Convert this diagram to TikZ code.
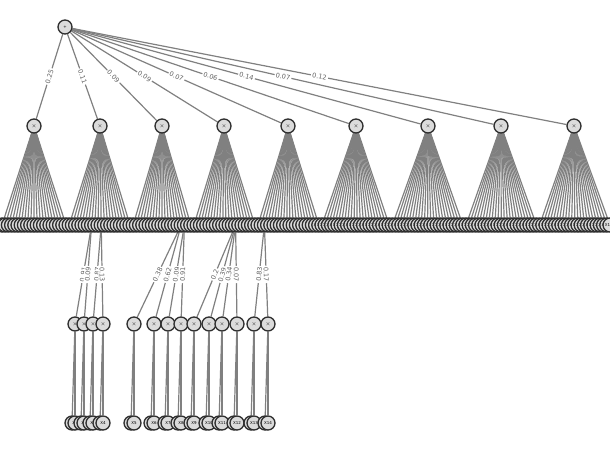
\documentclass[tikz,border=0pt]{standalone}
\usepackage{fontspec}
\setmainfont{DejaVu Sans}
\usetikzlibrary{backgrounds}
\begin{document}
\begin{tikzpicture}[x=1pt,y=-1pt,
    spnode/.style={circle,draw=black!82,fill=black!14,line width=1.3pt,
      minimum size=14pt,inner sep=0pt,font=\fontsize{4}{4}\selectfont},
    wlabel/.style={fill=white,sloped,inner sep=1.3pt,text=black!62,
      font=\fontsize{6.5}{6.5}\selectfont},
    every edge/.style={draw=black!50,line width=1.2pt}]

  \useasboundingbox (0,0) rectangle (610,450);

  % root and product layer
  \node[spnode] (root) at (65,27) {+};
  \foreach \n/\x in {1/34,2/100,3/162,4/224,5/288,6/356,7/428,8/501,9/574}
    \node[spnode] (p\n) at (\x,126) {$\times$};

  % second layer, leaves and a few sums
  \foreach \k in {1,...,191}
    \node[spnode] (b\k) at ({2+3.2*(\k-1)},225) {X\k};

  % third layer
  \foreach \n/\x in {1/75,2/84,3/93,4/103,5/134,6/154,7/168,8/181,
                     9/194,10/209,11/222,12/237,13/254,14/268}
    \node[spnode] (c\n) at (\x,324) {$\times$};

  % fourth layer
  \foreach \n/\x in {1/75,2/84,3/93,4/103,5/134,6/154,7/168,8/181,
                     9/194,10/209,11/222,12/237,13/254,14/268} {
    \node[spnode] (d\n a) at ({\x-3},423) {X\n};
    \node[spnode] (d\n b) at ({\x},423) {X\n};
  }

  \begin{pgfonlayer}{background}
    \foreach \g/\a/\b in {1/1/21,2/22/41,3/42/60,4/61/80,5/81/100,
                          6/101/122,7/123/145,8/146/168,9/169/191}
      \foreach \k in {\a,...,\b}
        \path (p\g) edge (b\k);

    \foreach \n in {1,...,14} {
      \path (c\n) edge (d\n a);
      \path (c\n) edge (d\n b);
    }

    \path (b29) edge node[wlabel] {0.91} (c1);
    \path (b29) edge node[wlabel] {0.09} (c2);
    \path (b32) edge node[wlabel] {0.87} (c3);
    \path (b32) edge node[wlabel] {0.13} (c4);
    \path (b57) edge node[wlabel] {0.38} (c5);
    \path (b57) edge node[wlabel] {0.62} (c6);
    \path (b58) edge node[wlabel] {0.09} (c7);
    \path (b58) edge node[wlabel] {0.91} (c8);
    \path (b74) edge node[wlabel] {0.2} (c9);
    \path (b74) edge node[wlabel] {0.39} (c10);
    \path (b74) edge node[wlabel] {0.34} (c11);
    \path (b74) edge node[wlabel] {0.07} (c12);
    \path (b83) edge node[wlabel] {0.83} (c13);
    \path (b83) edge node[wlabel] {0.17} (c14);

    \path (root) edge node[wlabel] {0.25} (p1);
    \path (root) edge node[wlabel] {0.11} (p2);
    \path (root) edge node[wlabel] {0.09} (p3);
    \path (root) edge node[wlabel] {0.09} (p4);
    \path (root) edge node[wlabel] {0.07} (p5);
    \path (root) edge node[wlabel] {0.06} (p6);
    \path (root) edge node[wlabel] {0.14} (p7);
    \path (root) edge node[wlabel] {0.07} (p8);
    \path (root) edge node[wlabel] {0.12} (p9);
  \end{pgfonlayer}

\end{tikzpicture}
\end{document}
